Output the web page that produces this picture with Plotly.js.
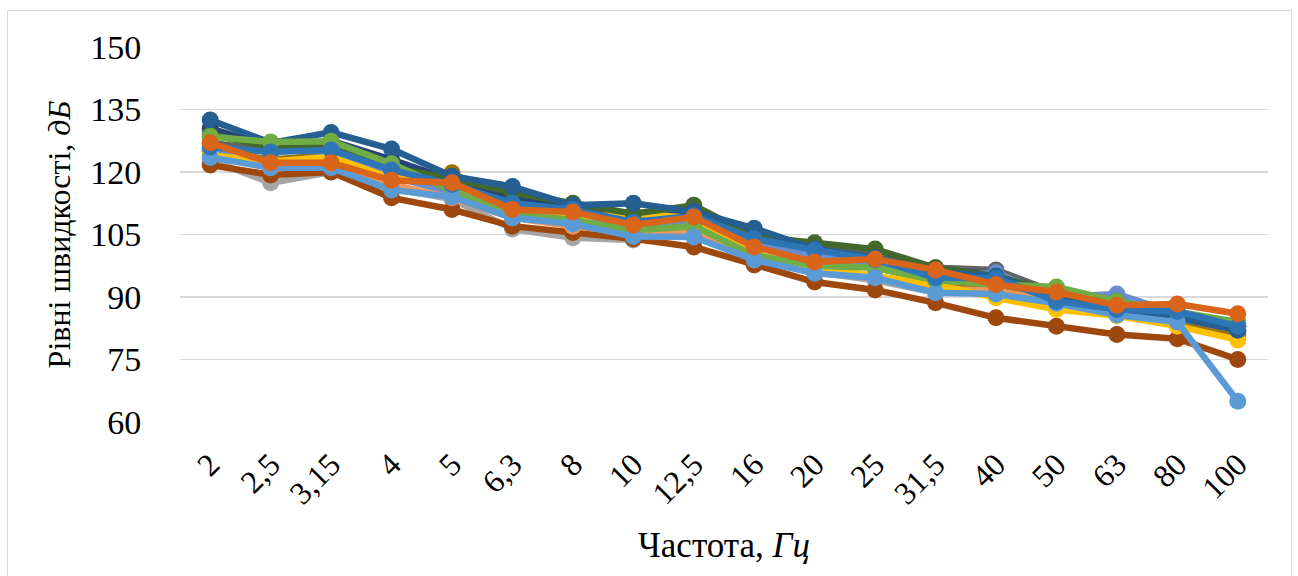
<!DOCTYPE html>
<html>
<head>
<meta charset="utf-8">
<script src="https://cdn.plot.ly/plotly-3.0.1.min.js"></script>
<style>
  html, body { margin: 0; padding: 0; background: #fff; }
  #wrap { position: relative; width: 1298px; height: 576px; overflow: hidden; }
  #chart { position: absolute; left: 0; top: 0; width: 1298px; height: 576px; }
  #frame { position: absolute; left: 7px; top: 10px; width: 1283px; height: 600px; border: 1.5px solid #D9D9D9; pointer-events: none; }
</style>
</head>
<body>
<div id="wrap">
  <div id="chart"></div>
  <div id="frame"></div>
</div>
<script>
// Frequencies (Hz), category labels
const categories = ["2", "2,5", "3,15", "4", "5", "6,3", "8", "10", "12,5", "16", "20", "25", "31,5", "40", "50", "63", "80", "100"];
const yTicks = [60, 75, 90, 105, 120, 135, 150];

// Velocity levels (dB), one array per measurement series
const sGray      = [122.9, 117.4, 120.0, 116.0, 113.5, 106.3, 104.2, 103.7, 106.0, 99.0, 96.0, 94.0, 91.0, 91.0, 88.0, 86.0, 85.0, 81.3];
const sBrown     = [121.7, 119.3, 120.0, 113.8, 111.0, 107.0, 105.5, 104.0, 102.0, 97.7, 93.6, 91.7, 88.6, 85.0, 83.0, 81.0, 80.0, 75.0];
const sDarkGray  = [127.0, 125.0, 126.0, 121.0, 117.0, 113.0, 111.0, 109.0, 110.0, 104.0, 102.0, 100.0, 97.0, 96.5, 91.0, 89.0, 86.0, 82.0];
const sOlive     = [125.0, 123.0, 124.0, 119.0, 119.8, 112.0, 110.0, 108.0, 109.0, 102.0, 99.0, 97.0, 94.0, 92.0, 89.0, 86.0, 83.3, 81.0];
const sDarkNavy  = [130.5, 126.0, 127.5, 123.0, 118.0, 114.0, 111.0, 109.0, 110.0, 105.0, 101.0, 99.0, 96.5, 95.5, 90.5, 88.0, 85.5, 83.0];
const sPeriwink  = [125.0, 122.0, 124.0, 119.0, 115.0, 111.0, 108.5, 107.0, 108.0, 103.0, 100.0, 98.0, 95.0, 95.8, 90.0, 90.7, 86.0, 83.0];
const sLtOrange  = [124.0, 121.0, 122.0, 117.0, 113.8, 109.0, 107.0, 105.5, 106.0, 100.0, 97.0, 95.0, 92.0, 91.5, 89.0, 87.0, 85.0, 82.0];
const sYellow    = [124.0, 122.5, 123.6, 118.5, 117.5, 111.0, 109.0, 110.0, 109.0, 100.3, 97.0, 95.0, 93.0, 89.8, 87.0, 85.5, 83.0, 79.7];
const sDarkGreen = [129.0, 126.0, 126.0, 121.0, 118.5, 115.0, 112.5, 110.0, 112.0, 104.5, 103.0, 101.5, 97.0, 95.0, 91.0, 89.0, 86.0, 83.0];
const sNavy      = [132.5, 127.0, 129.5, 125.5, 119.0, 116.5, 112.0, 112.5, 110.5, 106.5, 101.5, 99.5, 96.0, 95.0, 90.0, 87.0, 85.0, 82.0];
const sLtGreen   = [128.5, 127.2, 127.4, 122.0, 115.5, 110.0, 108.5, 106.0, 107.0, 100.0, 97.5, 97.0, 94.0, 93.0, 92.4, 89.0, 86.5, 84.0];
const sLtBlue    = [123.5, 121.0, 121.0, 115.7, 114.0, 109.0, 107.5, 104.5, 104.4, 98.9, 95.7, 94.6, 91.0, 90.7, 88.5, 85.7, 84.0, 65.0];
const sBlue      = [126.0, 124.8, 125.3, 120.5, 117.0, 112.5, 111.0, 108.0, 109.5, 104.0, 101.3, 99.0, 94.6, 94.5, 89.0, 87.0, 86.5, 83.0];
const sOrange    = [127.0, 122.2, 122.2, 118.0, 117.4, 111.0, 110.4, 107.3, 109.2, 102.0, 98.4, 99.1, 96.5, 93.0, 91.2, 88.0, 88.3, 86.0];

const seriesList = [
  {name: "Ряд 1",  y: sGray,      color: "#A5A5A5"},
  {name: "Ряд 2",  y: sBrown,     color: "#9E480E"},
  {name: "Ряд 3",  y: sDarkGray,  color: "#636363"},
  {name: "Ряд 4",  y: sOlive,     color: "#997300"},
  {name: "Ряд 5",  y: sDarkNavy,  color: "#264478"},
  {name: "Ряд 6",  y: sPeriwink,  color: "#698ED0"},
  {name: "Ряд 7",  y: sLtOrange,  color: "#F1975A"},
  {name: "Ряд 8",  y: sYellow,    color: "#FFC000"},
  {name: "Ряд 9",  y: sDarkGreen, color: "#43682B"},
  {name: "Ряд 10", y: sNavy,      color: "#255E91"},
  {name: "Ряд 11", y: sLtGreen,   color: "#70AD47"},
  {name: "Ряд 12", y: sLtBlue,    color: "#5B9BD5"},
  {name: "Ряд 13", y: sBlue,      color: "#2E75B6"},
  {name: "Ряд 14", y: sOrange,    color: "#D8651A"}
];

const traces = seriesList.map(s => ({
  type: "scatter",
  mode: "lines+markers",
  name: s.name,
  x: categories,
  y: s.y,
  line: {color: s.color, width: 6.5},
  marker: {color: s.color, size: 17}
}));

const serif = "Times New Roman, Liberation Serif, DejaVu Serif, serif";

const layout = {
  width: 1298,
  height: 576,
  margin: {l: 180, r: 30, t: 47, b: 154},
  paper_bgcolor: "#ffffff",
  plot_bgcolor: "#ffffff",
  showlegend: false,
  font: {family: serif, color: "#000000", size: 30},
  xaxis: {
    type: "category",
    categoryorder: "array",
    categoryarray: categories,
    range: [-0.5, categories.length - 0.5],
    tickangle: -45,
    showgrid: false,
    zeroline: false,
    showline: false,
    ticks: "outside",
    ticklen: 10,
    tickcolor: "rgba(0,0,0,0)",
    tickfont: {family: serif, size: 32, color: "#000"},
    title: {text: "Частота, <i>Гц</i>", font: {family: serif, size: 35, color: "#000"}, standoff: 22},
    automargin: false,
    fixedrange: true
  },
  yaxis: {
    range: [60, 150],
    tickvals: yTicks,
    ticktext: yTicks.map(String),
    showgrid: true,
    gridcolor: "#D9D9D9",
    gridwidth: 1.5,
    zeroline: false,
    showline: false,
    ticks: "outside",
    ticklen: 31,
    tickcolor: "rgba(0,0,0,0)",
    tickfont: {family: serif, size: 34, color: "#000"},
    title: {text: "Рівні швидкості, <i>дБ</i>", font: {family: serif, size: 32, color: "#000"}, standoff: 10},
    automargin: false,
    fixedrange: true
  }
};

Plotly.newPlot("chart", traces, layout, {displayModeBar: false, staticPlot: true});
</script>
</body>
</html>
